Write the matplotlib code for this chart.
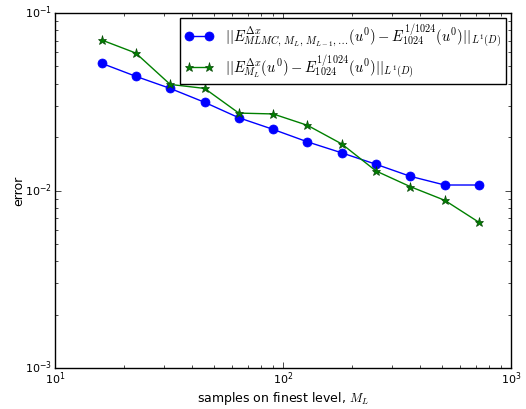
import matplotlib
matplotlib.use("Agg")
import matplotlib.pyplot as plt

plt.style.use("classic")
plt.rcParams["mathtext.fontset"] = "cm"
plt.rcParams["font.family"] = ["DejaVu Sans"]

samples = [16, 22.6, 32, 45.3, 64, 90.5, 128, 181, 256, 362, 512, 724]
mlmc_err = [0.0521, 0.0440, 0.0376, 0.0314, 0.0257, 0.0221, 0.0188, 0.0163, 0.01405, 0.01202, 0.01074, 0.01074]
mc_err = [0.0705, 0.0595, 0.0396, 0.0376, 0.0273, 0.0270, 0.0233, 0.0183, 0.01288, 0.01051, 0.00881, 0.00662]

label_mlmc = r"$||E^{\Delta x}_{MLMC,\,M_L,\,M_{L-1},\ldots}(u^0) - E^{1/1024}_{1024}(u^0)||_{L^1(D)}$"
label_mc = r"$||E^{\Delta x}_{M_L}(u^0) - E^{1/1024}_{1024}(u^0)||_{L^1(D)}$"

fig = plt.figure(figsize=(5.26, 4.09), dpi=100, facecolor="white")
ax = fig.add_axes([0.1046, 0.1002, 0.8668, 0.8680])
ax.loglog(samples, mlmc_err, "o-", color="b", markersize=6.5, markeredgecolor="b", label=label_mlmc)
ax.loglog(samples, mc_err, "*-", color="g", markersize=6.5, markeredgecolor="#0a4a0a", label=label_mc)
ax.set_xlim(10, 1000)
ax.set_ylim(1e-3, 1e-1)
ax.set_xlabel(r"samples on finest level, $M_L$", fontsize=9, labelpad=2)
ax.set_ylabel("error", fontsize=9, labelpad=0)
ax.tick_params(labelsize=8, pad=2)
leg = ax.legend(loc="upper right", fontsize=10.5, numpoints=2, borderaxespad=0.35,
                handlelength=2.0, labelspacing=0.25, borderpad=0.3, fancybox=False)
fig.savefig("out.png", dpi=100, facecolor="white")
